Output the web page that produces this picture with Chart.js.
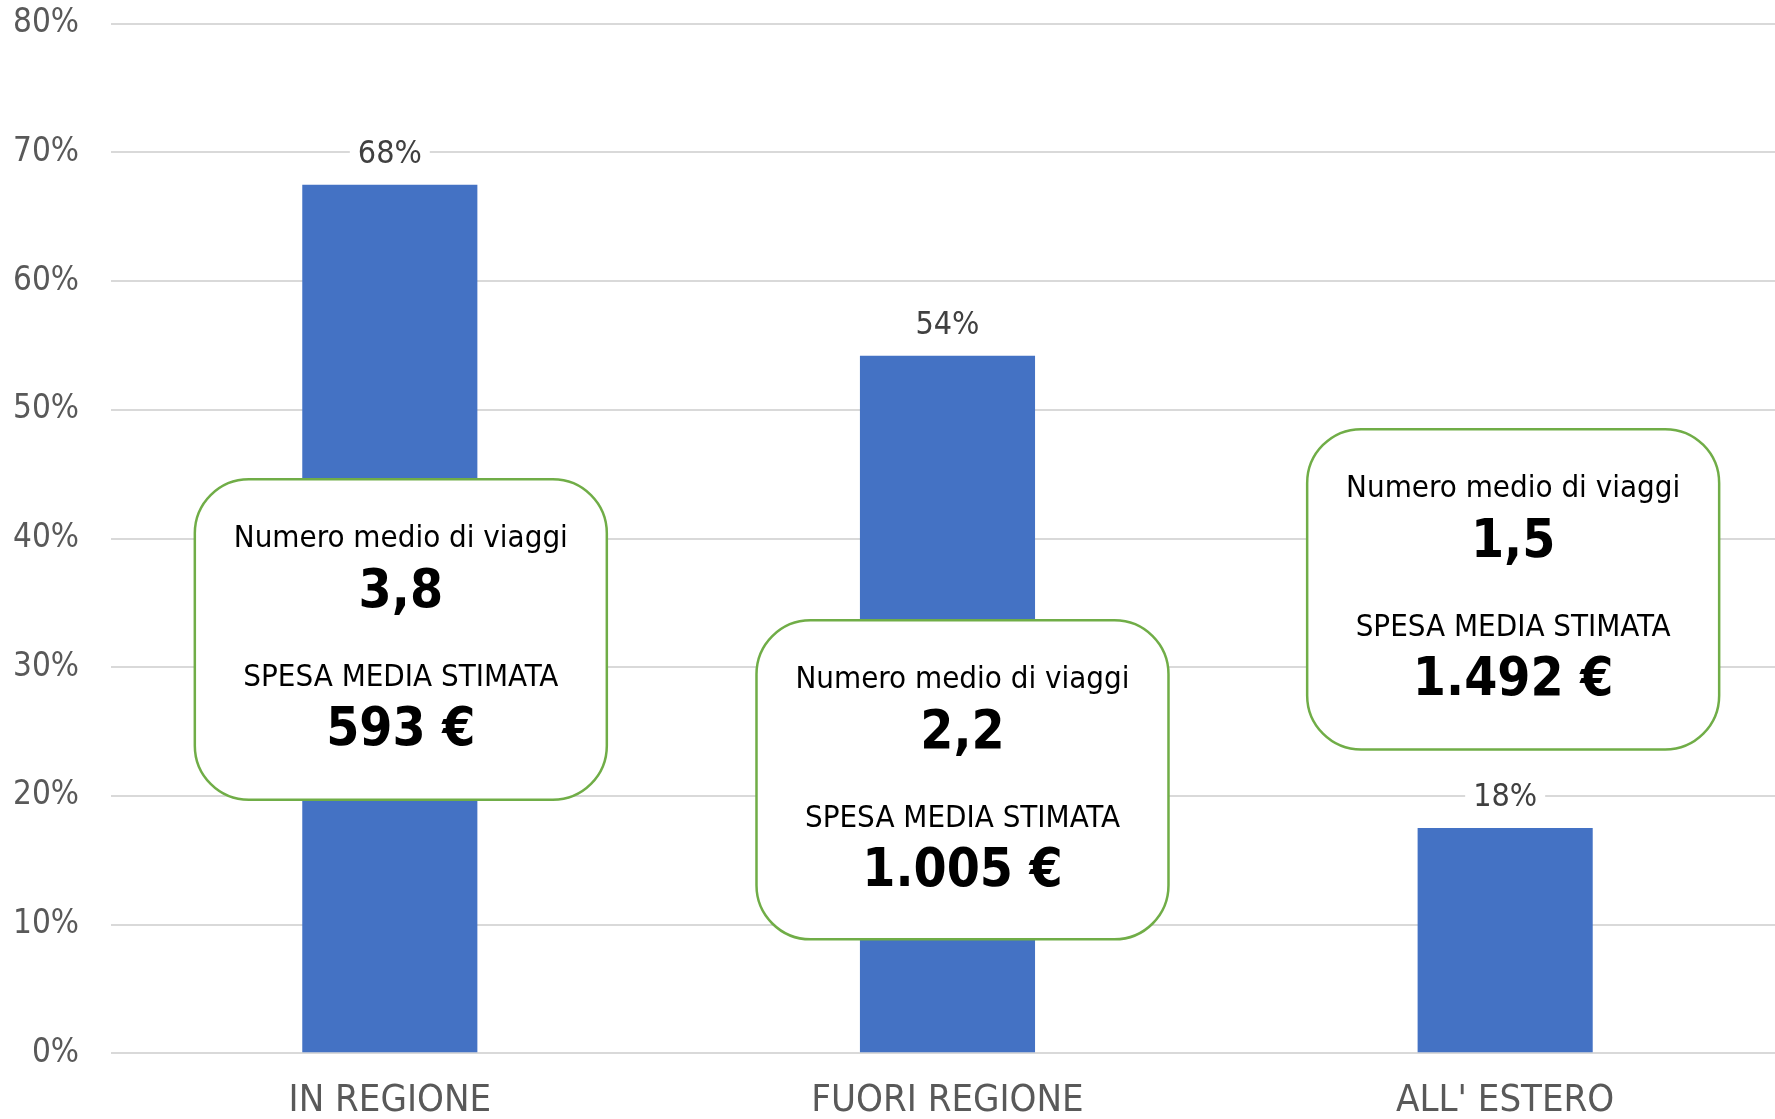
<!DOCTYPE html>
<html>
<head>
<meta charset="utf-8">
<script src="https://cdn.jsdelivr.net/npm/chart.js@4/dist/chart.umd.min.js"></script>
<style>
  html, body { margin: 0; padding: 0; background: #fff; overflow: hidden; }
  #wrap { width: 1784px; height: 1162px; margin-top: -28px; }
</style>
</head>
<body>
<div id="wrap"><canvas id="myChart"></canvas></div>
<script>
  // dati
  var categories = ['IN REGIONE', 'FUORI REGIONE', "ALL' ESTERO"];
  var shares = [67.5, 54.2, 17.5];
  var shareLabels = ['68%', '54%', '18%'];
  var tripsTitle = 'Numero medio di viaggi';
  var tripsAvg = ['3,8', '2,2', '1,5'];
  var spendTitle = 'SPESA MEDIA STIMATA';
  var spendAvg = ['593 \u20ac', '1.005 \u20ac', '1.492 \u20ac'];
  var yTicks = [0, 10, 20, 30, 40, 50, 60, 70, 80];

  // riquadri: top/bottom in valori dell'asse y, dx in pixel dal centro barra
  var boxTop = [44.6, 33.65, 48.5];
  var boxBottom = [19.7, 8.85, 23.6];
  var boxDx = [11, 15, 8];

  var FONT = "'DejaVu Sans Condensed', 'DejaVu Sans', sans-serif";

  function roundRect(ctx, x, y, w, h, r) {
    ctx.beginPath();
    ctx.moveTo(x + r, y);
    ctx.lineTo(x + w - r, y);
    ctx.arcTo(x + w, y, x + w, y + r, r);
    ctx.lineTo(x + w, y + h - r);
    ctx.arcTo(x + w, y + h, x + w - r, y + h, r);
    ctx.lineTo(x + r, y + h);
    ctx.arcTo(x, y + h, x, y + h - r, r);
    ctx.lineTo(x, y + r);
    ctx.arcTo(x, y, x + r, y, r);
    ctx.closePath();
  }

  var labelsPlugin = {
    id: 'extraLabels',
    afterDatasetsDraw: function (chart) {
      var ctx = chart.ctx;
      var meta = chart.getDatasetMeta(0);
      var xs = chart.scales.x, ys = chart.scales.y;
      ctx.save();
      // etichette percentuali
      ctx.font = '32px ' + FONT;
      ctx.textAlign = 'center';
      ctx.textBaseline = 'middle';
      meta.data.forEach(function (bar, i) {
        var t = shareLabels[i];
        var w = ctx.measureText(t).width + 16;
        var cy = bar.y - 30;
        ctx.fillStyle = '#ffffff';
        ctx.fillRect(bar.x - w / 2, cy - 18, w, 36);
        ctx.fillStyle = '#404040';
        ctx.fillText(t, bar.x, cy);
      });
      // riquadri
      categories.forEach(function (c, i) {
        var cx = xs.getPixelForValue(i) + boxDx[i];
        var top = ys.getPixelForValue(boxTop[i]);
        var bot = ys.getPixelForValue(boxBottom[i]);
        var w = 412;
        roundRect(ctx, cx - w / 2, top, w, bot - top, 54);
        ctx.fillStyle = '#ffffff';
        ctx.fill();
        ctx.lineWidth = 2.5;
        ctx.strokeStyle = '#70AD47';
        ctx.stroke();
        ctx.fillStyle = '#000000';
        ctx.font = '31px ' + FONT;
        ctx.fillText(tripsTitle, cx, top + 60);
        ctx.fillText(spendTitle, cx, top + 199);
        ctx.font = 'bold 53px ' + FONT;
        ctx.fillText(tripsAvg[i], cx, top + 114);
        ctx.fillText(spendAvg[i], cx, top + 252);
      });
      ctx.restore();
    }
  };

  var ctx = document.getElementById('myChart').getContext('2d');
  var myChart = new Chart(ctx, {
    type: 'bar',
    data: {
      labels: categories,
      datasets: [{
        data: shares,
        backgroundColor: '#4472C4',
        barPercentage: 0.314,
        categoryPercentage: 1
      }]
    },
    options: {
      responsive: true,
      maintainAspectRatio: false,
      animation: false,
      layout: { padding: { top: 0, left: -19, right: 0, bottom: -16 } },
      plugins: {
        legend: { display: false },
        tooltip: { enabled: false }
      },
      scales: {
        x: {
          grid: { display: false, drawTicks: false },
          border: { display: false },
          ticks: { color: '#595959', font: { family: FONT, size: 38, lineHeight: 1.6 }, padding: 18 }
        },
        y: {
          min: 0,
          max: 80,
          afterBuildTicks: function (axis) {
            axis.ticks = yTicks.map(function (v) { return { value: v }; });
          },
          grid: { color: '#d9d9d9', lineWidth: 2, drawTicks: false },
          border: { display: false },
          ticks: {
            color: '#595959',
            font: { family: FONT, size: 33 },
            padding: 32,
            callback: function (v) { return v + '%'; }
          }
        }
      }
    },
    plugins: [labelsPlugin]
  });
</script>
</body>
</html>
